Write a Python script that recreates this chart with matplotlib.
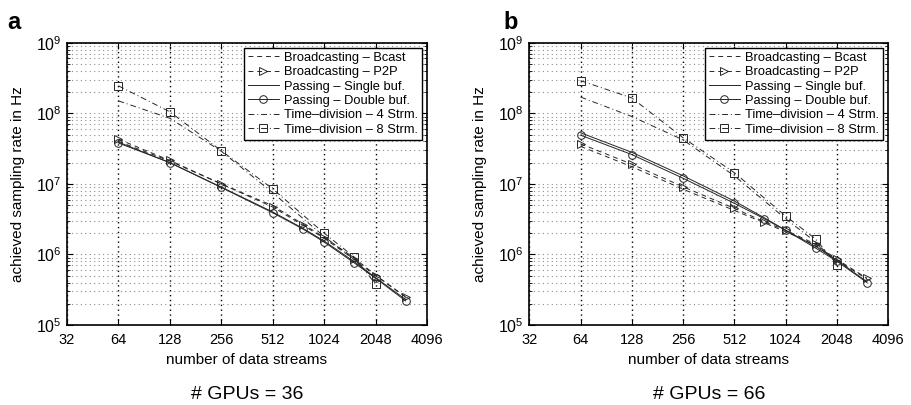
import numpy as np
import matplotlib
matplotlib.use("Agg")
import matplotlib.pyplot as plt
from matplotlib.ticker import FixedLocator, FuncFormatter, NullLocator, LogLocator

plt.rcParams['font.family'] = ['Liberation Sans', 'DejaVu Sans']
plt.rcParams['mathtext.fontset'] = 'custom'
plt.rcParams['mathtext.rm'] = 'Liberation Sans'
plt.rcParams['mathtext.it'] = 'Liberation Sans:italic'

""" DONNEES """
streams = [64, 128, 256, 512, 768, 1024, 1536, 2048, 3072]
streams_td = [64, 128, 256, 512, 1024, 1536, 2048]
x_ticks = [32, 64, 128, 256, 512, 1024, 2048, 4096]

# GPUs = 36
bcast_36 = [4.0e7, 2.1e7, 1.0e7, 4.9e6, 2.7e6, 1.75e6, 8.9e5, 5.1e5, 2.5e5]
p2p_36 = [4.3e7, 2.15e7, 1.0e7, 4.7e6, 2.6e6, 1.7e6, 8.5e5, 5.0e5, 2.5e5]
single_36 = [3.9e7, 2.0e7, 9.0e6, 4.0e6, 2.35e6, 1.55e6, 7.9e5, 4.7e5, 2.3e5]
double_36 = [3.8e7, 2.0e7, 8.9e6, 3.9e6, 2.3e6, 1.5e6, 7.6e5, 4.6e5, 2.2e5]
td4_36 = [1.5e8, 8.5e7, 2.9e7, 7.5e6, 1.8e6, 8.5e5, 4.4e5]
td8_36 = [2.45e8, 1.05e8, 2.95e7, 8.5e6, 2.0e6, 9.2e5, 3.8e5]

# GPUs = 66
bcast_66 = [3.4e7, 1.75e7, 8.4e6, 4.2e6, 2.8e6, 2.1e6, 1.35e6, 8.2e5, 4.5e5]
p2p_66 = [3.7e7, 1.9e7, 9.1e6, 4.5e6, 2.9e6, 2.2e6, 1.4e6, 8.5e5, 4.6e5]
single_66 = [5.3e7, 2.8e7, 1.3e7, 5.7e6, 3.3e6, 2.2e6, 1.3e6, 8.3e5, 4.1e5]
double_66 = [4.9e7, 2.6e7, 1.2e7, 5.3e6, 3.2e6, 2.2e6, 1.23e6, 8.0e5, 4.0e5]
td4_66 = [1.7e8, 9.0e7, 4.2e7, 1.3e7, 3.2e6, 1.5e6, 7.5e5]
td8_66 = [2.9e8, 1.65e8, 4.5e7, 1.44e7, 3.5e6, 1.65e6, 7.1e5]

labels = ["Broadcasting \u2013 Bcast", "Broadcasting \u2013 P2P",
          "Passing \u2013 Single buf.", "Passing \u2013 Double buf.",
          "Time\u2013division \u2013 4 Strm.", "Time\u2013division \u2013 8 Strm."]


""" AFFICHAGES """
def panneau(ax, bcast, p2p, single, double, td4, td8):
    c = '0.15'
    lw = 0.7
    ms = 5.5
    ax.plot(streams, bcast, linestyle=(0, (5, 4)), color=c, lw=lw, label=labels[0])
    ax.plot(streams, p2p, linestyle=(0, (5, 4)), color=c, lw=lw, marker='>',
            markersize=ms, markerfacecolor='none', markeredgewidth=0.7, label=labels[1])
    ax.plot(streams, single, '-', color=c, lw=lw, label=labels[2])
    ax.plot(streams, double, '-', color=c, lw=lw, marker='o',
            markersize=ms, markerfacecolor='none', markeredgewidth=0.7, label=labels[3])
    ax.plot(streams_td, td4, linestyle=(0, (6, 3, 1, 3)), color=c, lw=lw, label=labels[4])
    ax.plot(streams_td, td8, linestyle=(0, (6, 3, 1, 3)), color=c, lw=lw, marker='s',
            markersize=ms, markerfacecolor='none', markeredgewidth=0.7, label=labels[5])

    ax.set_xscale('log', base=2)
    ax.set_yscale('log')
    ax.set_xlim(32, 4096)
    ax.set_ylim(1e5, 1e9)
    ax.xaxis.set_major_locator(FixedLocator(x_ticks))
    ax.xaxis.set_minor_locator(NullLocator())
    ax.xaxis.set_major_formatter(FuncFormatter(lambda v, p: "%d" % v))
    ax.yaxis.set_major_locator(LogLocator(base=10, numticks=10))
    ax.yaxis.set_minor_locator(LogLocator(base=10, subs=np.arange(2, 10), numticks=10))
    ax.yaxis.set_major_formatter(FuncFormatter(lambda v, p: r"$10^{%d}$" % round(np.log10(v))))
    ax.tick_params(which='both', direction='in', top=True, right=True)
    ax.tick_params(axis='x', labelsize=10.5, pad=6)
    ax.tick_params(axis='y', labelsize=11.5, pad=4)
    ax.tick_params(which='major', length=4)
    ax.tick_params(which='minor', length=2)
    ax.xaxis.grid(True, which='major', linestyle=(0, (1, 2.5)), color='black', linewidth=1.0)
    ax.yaxis.grid(True, which='both', linestyle=(0, (1, 3)), color='0.55', linewidth=0.8)
    for s in ax.spines.values():
        s.set_linewidth(1.2)
    ax.set_xlabel("number of data streams", fontsize=11, labelpad=4)
    ax.set_ylabel("achieved sampling rate in Hz", fontsize=11, labelpad=8)
    leg = ax.legend(loc='upper right', fontsize=9.3, fancybox=False, framealpha=1,
                    edgecolor='black', handlelength=2.4, borderaxespad=0.4,
                    labelspacing=0.18, handletextpad=0.4, borderpad=0.3)
    leg.get_frame().set_linewidth(1.0)


fig = plt.figure(figsize=(9.11, 4.05), dpi=100)
ax1 = fig.add_axes([0.0735, 0.1975, 0.3952, 0.697])
ax2 = fig.add_axes([0.581, 0.1975, 0.394, 0.697])
panneau(ax1, bcast_36, p2p_36, single_36, double_36, td4_36, td8_36)
panneau(ax2, bcast_66, p2p_66, single_66, double_66, td4_66, td8_66)

fig.text(0.008, 0.945, "a", fontsize=17, fontweight='bold', va='center')
fig.text(0.553, 0.945, "b", fontsize=17, fontweight='bold', va='center')
fig.text(0.0735 + 0.3952 / 2, 0.027, "# GPUs = 36", fontsize=14, ha='center', va='center')
fig.text(0.581 + 0.394 / 2, 0.027, "# GPUs = 66", fontsize=14, ha='center', va='center')

fig.savefig("out.png", dpi=100)
